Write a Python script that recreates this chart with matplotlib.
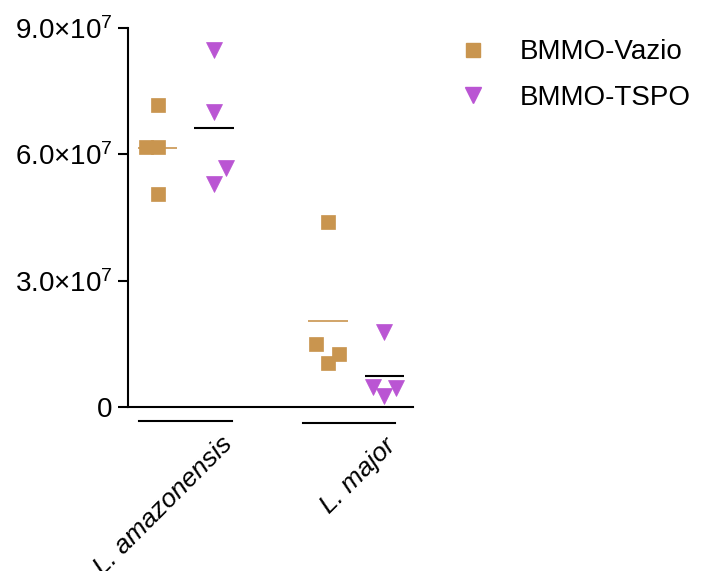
import numpy as np
import matplotlib
matplotlib.use("Agg")
import matplotlib.pyplot as plt
from matplotlib.lines import Line2D
import matplotlib.transforms as mtransforms

plt.rcParams['font.family'] = ['Liberation Sans', 'DejaVu Sans']
plt.rcParams['mathtext.fontset'] = 'custom'
plt.rcParams['mathtext.rm'] = 'Liberation Sans'
plt.rcParams['mathtext.it'] = 'Liberation Sans:italic'

# data
groups = ["L. amazonensis", "L. major"]
series = ["BMMO-Vazio", "BMMO-TSPO"]
amaz_vazio = [7.17e7, 6.17e7, 6.17e7, 5.05e7]
amaz_tspo = [8.48e7, 7.00e7, 5.68e7, 5.30e7]
major_vazio = [4.39e7, 1.50e7, 1.26e7, 1.05e7]
major_tspo = [1.78e7, 0.48e7, 0.26e7, 0.45e7]
yticks = [0, 3e7, 6e7, 9e7]
ytick_labels = ["0", r"$\mathregular{3.0{\times}10^{7}}$",
                r"$\mathregular{6.0{\times}10^{7}}$", r"$\mathregular{9.0{\times}10^{7}}$"]

values = {(0, 0): amaz_vazio, (0, 1): amaz_tspo,
          (1, 0): major_vazio, (1, 1): major_tspo}
# horizontal scatter of the points (Prism-style), in data units
jitter = {(0, 0): [0, -0.07, 0, 0], (0, 1): [0, 0, 0.07, 0],
          (1, 0): [0, -0.07, 0.065, 0], (1, 1): [0, -0.065, 0, 0.07]}

colors = ["#C9954F", "#BA55D3"]
markers = ["s", "v"]
msizes = [10.5, 11.5]
mean_colors = ["#C9954F", "black"]
offset = 0.165
halfw = 0.115

fig = plt.figure(figsize=(7.08, 5.71), dpi=100)
ax = fig.add_axes([0.1808, 0.2872, 0.4025, 0.6637])

for (g, s), vals in values.items():
    xc = g + (offset if s == 1 else -offset)
    xs = xc + np.array(jitter[(g, s)])
    ax.plot(xs, vals, linestyle="none", marker=markers[s], ms=msizes[s],
            color=colors[s], mec=colors[s], mew=0.5, clip_on=False, zorder=3)
    ax.hlines(np.mean(vals), xc - halfw, xc + halfw, color=mean_colors[s],
              lw=1.5 if s == 1 else 1.2, zorder=4)

ax.set_xlim(-0.341, 1.335)
ax.set_ylim(0, 9e7)
ax.set_yticks(yticks)
ax.set_yticklabels(ytick_labels)
ax.set_xticks([])
ax.tick_params(axis='y', direction='out', length=7, width=1.5, labelsize=20, pad=4)
for side in ['top', 'right']:
    ax.spines[side].set_visible(False)
for side in ['left', 'bottom']:
    ax.spines[side].set_linewidth(1.5)

# group lines and rotated labels below the axis
trans = mtransforms.blended_transform_factory(ax.transData, ax.transAxes)
group_spans = [(-0.276, 0.271, -0.037), (0.688, 1.229, -0.042)]
for name, (x0, x1, yl) in zip(groups, group_spans):
    ax.plot([x0, x1], [yl, yl], color="black", lw=1.5, transform=trans, clip_on=False)
    ax.text(x1 + 0.03, yl - 0.028, name, transform=trans, rotation=45, ha="right", va="top",
            fontsize=19, style="italic")

handles = [Line2D([], [], linestyle="none", marker=markers[i], ms=msizes[i],
                  color=colors[i]) for i in range(2)]
fig.legend(handles, series, loc="upper left", bbox_to_anchor=(0.613, 0.975),
           frameon=False, fontsize=20, handlelength=1.0, handletextpad=1.2,
           labelspacing=0.7)

fig.savefig("out.png", dpi=100)
